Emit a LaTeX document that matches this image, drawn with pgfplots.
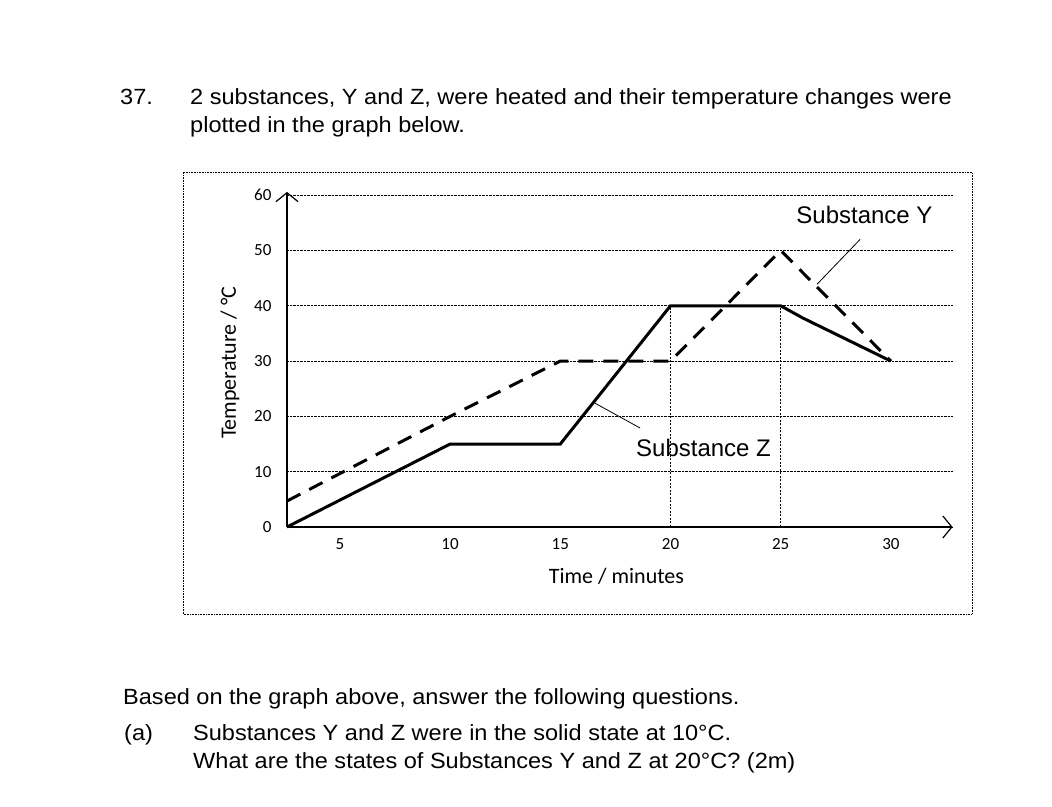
\documentclass[border=0pt]{standalone}
\usepackage{fontspec}
\setmainfont{Liberation Sans}
\newfontfamily\qfont[FakeStretch=1.07]{Liberation Sans}
\newfontfamily\calfont{Carlito}
\usepackage{pgfplots}
\pgfplotsset{compat=1.18}
\usetikzlibrary{arrows.meta}

\begin{document}
\begin{tikzpicture}[x=1pt,y=1pt]
\path[use as bounding box] (0,0) rectangle (1052,806);

% question text (y = 806 - pixel row)
\node[anchor=base west,inner sep=0,font=\qfont\fontsize{22}{26}\selectfont] at (120,701) {37.};
\node[anchor=base west,inner sep=0,font=\qfont\fontsize{22}{26}\selectfont] at (190,701)
  {2 substances, Y and Z, were heated and their temperature changes were};
\node[anchor=base west,inner sep=0,font=\qfont\fontsize{22}{26}\selectfont] at (190,673)
  {plotted in the graph below.};

% frame round the graph
\draw[densely dotted,line width=0.6pt] (183,192) rectangle (972,634);

\begin{axis}[
    at={(287pt,279pt)}, anchor=south west,
    scale only axis,
    x=22.04pt, y=5.53pt,
    xmin=2.6, xmax=32.8,
    ymin=0, ymax=60.6,
    axis lines=left,
    axis line style={line width=1.6pt,-{Straight Barb[length=9pt,width=22pt,line width=1.2pt]}},
    xtick={5,10,15,20,25,30},
    ytick={0,10,20,30,40,50,60},
    major tick length=0pt,
    ymajorgrids=true,
    grid style={densely dotted,line width=0.8pt,black},
    /pgf/number format/assume math mode=true,
    tick label style={font=\calfont\fontsize{17}{19}\selectfont},
    yticklabel style={xshift=-12pt},
    xticklabel style={yshift=-8pt},
    xlabel={Time / minutes},
    ylabel={Temperature / °C},
    label style={font=\calfont\fontsize{22}{24}\selectfont},
    xlabel style={at={(axis description cs:0.495,0)},yshift=-38pt},
    ylabel style={at={(axis description cs:0,0.49)},yshift=44pt},
    clip=false,
]
% substance Y
\addplot[black,line width=3pt,dash pattern=on 15pt off 10pt] coordinates {
    (2.6,4.7)(10,20)(15,30)(20,30)(25,50)(30,30)
};
% substance Z
\addplot[black,line width=3pt] coordinates {
    (2.6,0)(10,15)(15,15)(20,40)(25,40)(26,37.8)(30,30)
};
% dotted guides at 20 and 25 minutes
\addplot[black,line width=0.9pt,dash pattern=on 2pt off 1.5pt] coordinates {(20,0)(20,40)};
\addplot[black,line width=0.9pt,dash pattern=on 2pt off 1.5pt] coordinates {(25,0)(25,40)};

\node[font=\fontsize{24}{28}\selectfont] at (axis cs:28.8,56.4) {Substance Y};
\draw[line width=0.8pt] (axis cs:28.6,52.0) -- (axis cs:26.65,43.9);
\node[font=\fontsize{24}{28}\selectfont] at (axis cs:21.5,14.3) {Substance Z};
\draw[line width=0.8pt] (axis cs:18.62,17.9) -- (axis cs:16.57,22.4);
\end{axis}

% questions below the graph
\node[anchor=base west,inner sep=0,font=\qfont\fontsize{22}{26}\selectfont] at (123,101)
  {Based on the graph above, answer the following questions.};
\node[anchor=base west,inner sep=0,font=\qfont\fontsize{22}{26}\selectfont] at (124,66) {(a)};
\node[anchor=base west,inner sep=0,font=\qfont\fontsize{22}{26}\selectfont] at (193,66)
  {Substances Y and Z were in the solid state at 10°C.};
\node[anchor=base west,inner sep=0,font=\qfont\fontsize{22}{26}\selectfont] at (193,38)
  {What are the states of Substances Y and Z at 20°C? (2m)};
\end{tikzpicture}
\end{document}
